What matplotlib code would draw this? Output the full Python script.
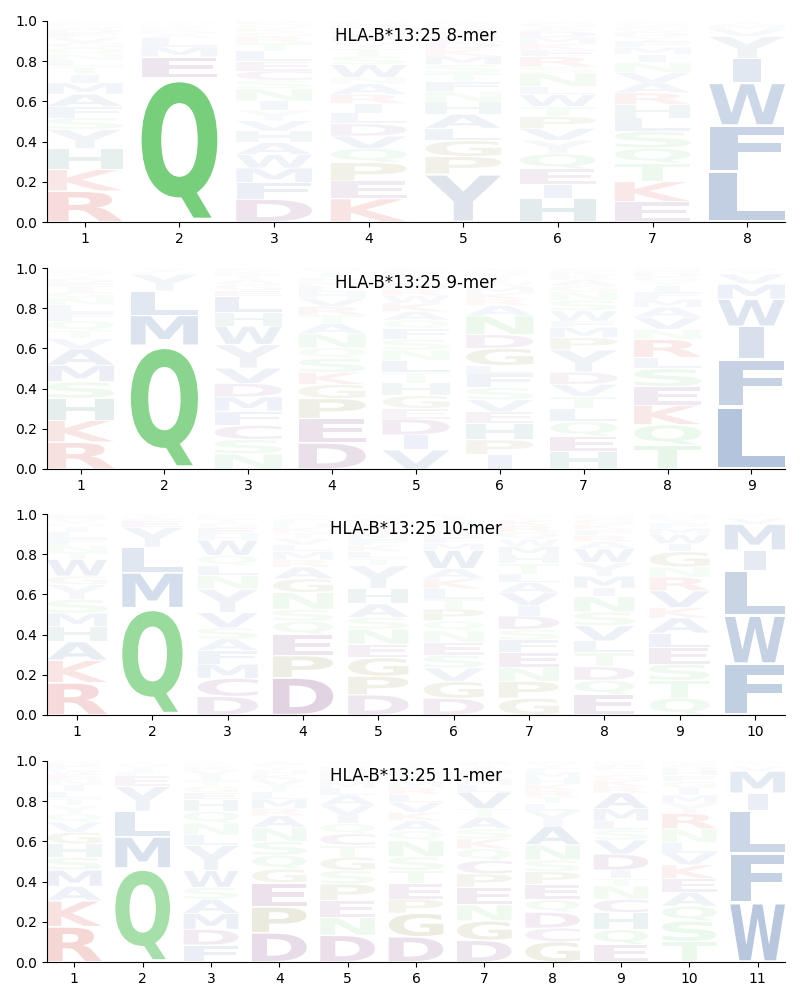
import matplotlib
matplotlib.use("Agg")
import matplotlib.pyplot as plt
from matplotlib.textpath import TextPath
from matplotlib.patches import PathPatch
from matplotlib.font_manager import FontProperties
from matplotlib.transforms import Affine2D

allele = "HLA-B*13:25"
peptide_lengths = [8, 9, 10, 11]

# Letters of each column, bottom -> top, and their frequencies
mer8_letters = ["RKHYSFAMITLNQGVEDWPC", "QEMLADKRSTN", "DFMWAHVYINSCELTRGKQP",
                "KEPQVDLIRANWSTYFGMHC", "YPGLAHNFTSMKDEQVWR", "HIEQYVPTWLNSRFKMDAGC",
                "EKTQSLHRAVNIMFYDWPGC", "LFWIYVMAT"]
mer8_freqs = [
    [.15, .105, .10, .095, .055, .055, .06, .055, .04, .04, .03, .03, .03, .025, .025, .02, .02, .015, .015, .01],
    [.72, .105, .05, .045, .02, .015, .01, .01, .01, .01, .01],
    [.11, .08, .07, .065, .058, .055, .05, .05, .045, .06, .04, .045, .045, .05, .04, .03, .02, .02, .02, .015],
    [.11, .083, .087, .066, .058, .058, .05, .045, .043, .05, .03, .06, .04, .035, .03, .03, .025, .02, .015, .01],
    [.225, .083, .075, .058, .066, .058, .05, .045, .04, .04, .04, .035, .03, .025, .025, .02, .015, .015],
    [.115, .07, .075, .075, .066, .058, .058, .05, .058, .04, .066, .03, .05, .035, .03, .03, .03, .02, .02, .01],
    [.10, .10, .09, .075, .083, .066, .066, .058, .05, .05, .05, .04, .035, .03, .025, .02, .015, .015, .015, .01],
    [.25, .225, .21, .12, .11, .035, .02, .01, .01],
]

mer9_letters = ["RKHSMAVTQFLNGIEDYWPC", "QMLYFIV", "NSCFMDVYWHLEGATKR",
                "DEPGKSQNATRVHLMFIYW", "VIDEGHTLNSFQAKWRMYPC", "IPHEVSFLGDNARKMWTYQC",
                "HEQLTVDYPMFWSNGARKC", "TQKESLRNVAMFIYGDHW", "LFIWMVYA"]
mer9_freqs = [
    [.135, .11, .11, .083, .083, .083, .05, .04, .05, .04, .04, .035, .03, .025, .02, .02, .02, .015, .01, .01],
    [.615, .15, .12, .085, .01, .01, .01],
    [.075, .07, .07, .07, .07, .066, .075, .117, .09, .066, .08, .03, .03, .025, .02, .02, .015],
    [.125, .117, .095, .067, .058, .067, .05, .067, .05, .04, .04, .04, .03, .03, .02, .02, .02, .015, .01],
    [.09, .07, .075, .05, .06, .06, .05, .055, .05, .05, .05, .04, .04, .04, .035, .03, .03, .03, .025, .015],
    [.07, .07, .08, .055, .058, .058, .066, .04, .083, .066, .09, .05, .03, .03, .03, .02, .02, .02, .02, .01],
    [.083, .075, .07, .063, .058, .058, .058, .108, .058, .05, .03, .05, .05, .04, .03, .03, .02, .02, .015],
    [.12, .10, .097, .092, .09, .055, .09, .05, .06, .05, .04, .035, .03, .025, .02, .02, .015, .01],
    [.31, .235, .165, .135, .075, .05, .02, .01],
]

mer10_letters = ["RKAHMSYGWTNFLIQVED", "QMLYEFIV", "DCMFASVYNLQWHEGTKR",
                 "DPEQSNGARMLVTKHFYI", "DPGENSAHYTLKFMRVQWC", "DGVSENQPTLKAWMFRYHIC",
                 "GPNEFSDIVALTHMWQRKYC", "EQDTLVSNIMYWARFKGHC", "QTSELAKVRNGIWMFYHD",
                 "FWLIMVYA"]
mer10_freqs = [
    [.16, .112, .092, .075, .067, .067, .075, .042, .083, .035, .035, .035, .03, .025, .02, .02, .015, .01],
    [.53, .175, .125, .10, .03, .015, .01, .01],
    [.092, .09, .07, .067, .058, .055, .075, .117, .067, .05, .05, .075, .03, .03, .025, .02, .015, .01],
    [.183, .108, .103, .067, .058, .083, .067, .058, .035, .04, .035, .03, .03, .025, .02, .02, .015, .01],
    [.10, .092, .092, .067, .075, .058, .067, .075, .115, .035, .035, .03, .03, .03, .025, .025, .02, .015, .01],
    [.083, .083, .067, .063, .063, .058, .05, .058, .05, .05, .05, .05, .09, .035, .03, .03, .03, .025, .02, .01],
    [.08, .08, .067, .07, .06, .05, .063, .05, .06, .05, .04, .05, .04, .04, .035, .035, .03, .025, .02, .01],
    [.10, .07, .067, .067, .058, .075, .067, .075, .042, .058, .067, .067, .035, .03, .03, .025, .025, .015, .01],
    [.083, .087, .08, .08, .072, .075, .05, .083, .067, .05, .075, .04, .045, .03, .025, .02, .015, .01],
    [.255, .24, .225, .10, .13, .03, .01, .01],
]

mer11_letters = ["RKAMSHGVQYTLINEWFDP", "QMLYEFIVAT", "FDMASWYLNQHEGTIVRKC",
                 "DPEGQSNARMLTVKHYFI", "DNEPSGTCQIVALMKHRFYW", "DGPETSNQAKVLRMIHFYW",
                 "DGNEPCQKSATVLMRHIFW", "GCDQEPSNAIVLTRKHMFYW", "EQHCNTIDVSLMARKGYFWP",
                 "TSQAEKVLNRYMIGFHDWP", "WFLIMVYA"]
mer11_freqs = [
    [.175, .128, .072, .08, .063, .067, .058, .05, .042, .04, .035, .035, .03, .03, .025, .02, .02, .015, .01],
    [.465, .155, .125, .125, .05, .02, .02, .015, .01, .01],
    [.083, .078, .078, .07, .058, .083, .125, .05, .058, .058, .058, .035, .03, .03, .025, .025, .02, .015, .01],
    [.142, .125, .117, .067, .067, .067, .067, .058, .035, .045, .035, .03, .03, .025, .02, .02, .015, .01],
    [.133, .09, .083, .083, .067, .067, .058, .058, .05, .042, .05, .05, .035, .03, .025, .02, .02, .015, .015, .01],
    [.125, .117, .07, .075, .067, .067, .08, .05, .05, .04, .05, .04, .035, .03, .025, .025, .02, .02, .01],
    [.108, .097, .08, .088, .067, .067, .058, .05, .05, .058, .042, .083, .035, .03, .025, .02, .02, .015, .01],
    [.10, .067, .078, .062, .075, .062, .058, .075, .092, .035, .04, .035, .035, .03, .03, .03, .03, .02, .02, .015],
    [.083, .07, .08, .063, .063, .035, .04, .075, .067, .05, .04, .058, .075, .03, .03, .025, .02, .02, .015, .01],
    [.10, .10, .072, .067, .067, .067, .058, .05, .067, .075, .05, .04, .035, .03, .03, .025, .02, .015, .01],
    [.295, .245, .215, .085, .11, .025, .015, .01],
]

panel_letters = [mer8_letters, mer9_letters, mer10_letters, mer11_letters]
panel_freqs = [mer8_freqs, mer9_freqs, mer10_freqs, mer11_freqs]

# colour groups
group_colors = {
    "AVLIMFW": (15 / 255, 67 / 255, 143 / 255),
    "Y": (122 / 255, 144 / 255, 179 / 255),
    "KR": (200 / 255, 30 / 255, 25 / 255),
    "DEC": (100 / 255, 20 / 255, 100 / 255),
    "PG": (100 / 255, 100 / 255, 0 / 255),
    "H": (20 / 255, 100 / 255, 100 / 255),
    "QNST": (65 / 255, 187 / 255, 71 / 255),
}
letter_color = {}
for grp, col in group_colors.items():
    for ch in grp:
        letter_color[ch] = col

fp = FontProperties(family="DejaVu Sans", weight="bold")
_cache = {}


def glyph(ch):
    if ch not in _cache:
        _cache[ch] = TextPath((0, 0), ch, size=1, prop=fp)
    return _cache[ch]


E_WIDTH = glyph("E").get_extents().width


def draw_letter(ax, ch, x, y0, h, alpha, width=0.8, vpad=0.06):
    p = glyph(ch)
    ext = p.get_extents()
    # do not stretch narrow glyphs (like I) wider than the 'E' stretch
    hs = min(width / ext.width, width / E_WIDTH)
    cw = hs * ext.width
    hh = h * (1 - vpad)
    yb = y0 + h * vpad / 2
    t = (Affine2D().translate(-ext.x0, -ext.y0)
         .scale(hs, hh / ext.height)
         .translate(x - cw / 2, yb))
    ax.add_patch(PathPatch(t.transform_path(p), facecolor=letter_color[ch],
                           edgecolor="none", alpha=alpha))


fig = plt.figure(figsize=(8, 10), dpi=100)
tops_px = [21, 268, 514, 761]
for i, L in enumerate(peptide_lengths):
    top = tops_px[i]
    ax = fig.add_axes([47 / 800, 1 - (top + 201) / 1000, 738 / 800, 201 / 1000])
    for j in range(L):
        letters = panel_letters[i][j]
        freqs = panel_freqs[i][j]
        tot = sum(freqs)
        y = 0.0
        for ch, f in zip(letters, freqs):
            h = f / tot
            draw_letter(ax, ch, j + 1, y, h, alpha=min(1.0, h))
            y += h
    ax.set_xlim(0.6, L + 0.4)
    ax.set_ylim(0, 1)
    ax.set_xticks(range(1, L + 1))
    ax.set_yticks([0, 0.2, 0.4, 0.6, 0.8, 1.0])
    ax.spines["top"].set_visible(False)
    ax.spines["right"].set_visible(False)
    ax.text(0.5, 0.925, f"{allele} {L}-mer", transform=ax.transAxes,
            ha="center", va="center", fontsize=12)

fig.savefig("out.png", dpi=100)
